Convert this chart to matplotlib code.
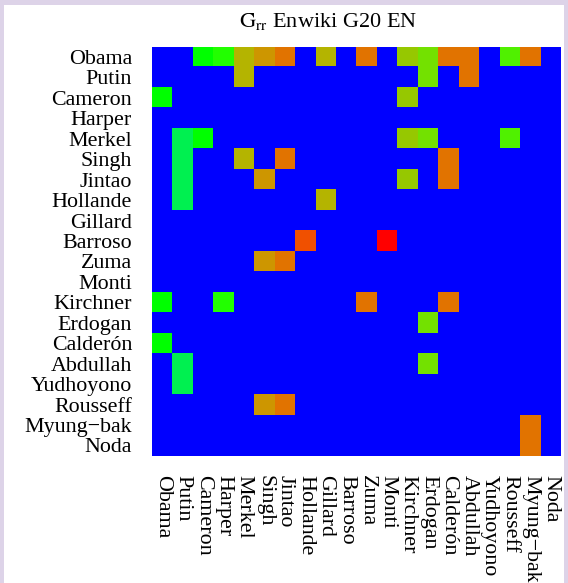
import numpy as np
import matplotlib
matplotlib.use('Agg')
import matplotlib.pyplot as plt
from matplotlib.colors import ListedColormap
import matplotlib.patches as mpatches

leaders = ['Obama', 'Putin', 'Cameron', 'Harper', 'Merkel', 'Singh', 'Jintao',
           'Hollande', 'Gillard', 'Barroso', 'Zuma', 'Monti', 'Kirchner',
           'Erdogan', 'Calderón', 'Abdullah', 'Yudhoyono', 'Rousseff',
           'Myung\u2212bak', 'Noda']

# colour level of each cell (0 = blue background, 11 = red)
grr = [
    [0, 0, 2, 3, 7, 8, 9, 0, 7, 0, 9, 0, 6, 5, 9, 9, 0, 4, 9, 0],   # Obama
    [0, 0, 0, 0, 7, 0, 0, 0, 0, 0, 0, 0, 0, 5, 0, 9, 0, 0, 0, 0],   # Putin
    [2, 0, 0, 0, 0, 0, 0, 0, 0, 0, 0, 0, 6, 0, 0, 0, 0, 0, 0, 0],   # Cameron
    [0, 0, 0, 0, 0, 0, 0, 0, 0, 0, 0, 0, 0, 0, 0, 0, 0, 0, 0, 0],   # Harper
    [0, 1, 2, 0, 0, 0, 0, 0, 0, 0, 0, 0, 6, 5, 0, 0, 0, 4, 0, 0],   # Merkel
    [0, 1, 0, 0, 7, 0, 9, 0, 0, 0, 0, 0, 0, 0, 9, 0, 0, 0, 0, 0],   # Singh
    [0, 1, 0, 0, 0, 8, 0, 0, 0, 0, 0, 0, 6, 0, 9, 0, 0, 0, 0, 0],   # Jintao
    [0, 1, 0, 0, 0, 0, 0, 0, 7, 0, 0, 0, 0, 0, 0, 0, 0, 0, 0, 0],   # Hollande
    [0, 0, 0, 0, 0, 0, 0, 0, 0, 0, 0, 0, 0, 0, 0, 0, 0, 0, 0, 0],   # Gillard
    [0, 0, 0, 0, 0, 0, 0, 10, 0, 0, 0, 11, 0, 0, 0, 0, 0, 0, 0, 0], # Barroso
    [0, 0, 0, 0, 0, 8, 9, 0, 0, 0, 0, 0, 0, 0, 0, 0, 0, 0, 0, 0],   # Zuma
    [0, 0, 0, 0, 0, 0, 0, 0, 0, 0, 0, 0, 0, 0, 0, 0, 0, 0, 0, 0],   # Monti
    [2, 0, 0, 3, 0, 0, 0, 0, 0, 0, 9, 0, 0, 0, 9, 0, 0, 0, 0, 0],   # Kirchner
    [0, 0, 0, 0, 0, 0, 0, 0, 0, 0, 0, 0, 0, 5, 0, 0, 0, 0, 0, 0],   # Erdogan
    [2, 0, 0, 0, 0, 0, 0, 0, 0, 0, 0, 0, 0, 0, 0, 0, 0, 0, 0, 0],   # Calderon
    [0, 1, 0, 0, 0, 0, 0, 0, 0, 0, 0, 0, 0, 5, 0, 0, 0, 0, 0, 0],   # Abdullah
    [0, 1, 0, 0, 0, 0, 0, 0, 0, 0, 0, 0, 0, 0, 0, 0, 0, 0, 0, 0],   # Yudhoyono
    [0, 0, 0, 0, 0, 8, 9, 0, 0, 0, 0, 0, 0, 0, 0, 0, 0, 0, 0, 0],   # Rousseff
    [0, 0, 0, 0, 0, 0, 0, 0, 0, 0, 0, 0, 0, 0, 0, 0, 0, 0, 9, 0],   # Myung-bak
    [0, 0, 0, 0, 0, 0, 0, 0, 0, 0, 0, 0, 0, 0, 0, 0, 0, 0, 9, 0],   # Noda
]

level_colors = ['#0000ff', '#00f050', '#00ff00', '#22ff00', '#50f000',
                '#73e100', '#96c800', '#b4b400', '#cd9600', '#e17300',
                '#f05000', '#ff0000']

plt.rcParams['font.family'] = ['Liberation Serif', 'DejaVu Serif']
plt.rcParams['mathtext.fontset'] = 'stix'

W, H = 568, 583
fig = plt.figure(figsize=(W / 100, H / 100), dpi=100)
fig.patch.set_facecolor('#ddd3e8')
fig.patches.append(mpatches.Rectangle((4 / W, 0), (W - 8) / W, (H - 5) / H,
                                      transform=fig.transFigure,
                                      facecolor='white', edgecolor='none',
                                      zorder=-10))

ax = fig.add_axes([152.3 / W, (H - 455.7) / H, 409 / W, 409 / H])
ax.set_zorder(5)
cmap = ListedColormap(level_colors)
ax.imshow(np.array(grr), cmap=cmap, vmin=-0.5, vmax=len(level_colors) - 0.5,
          aspect='auto', interpolation='nearest')

n = len(leaders)
ax.set_xticks(np.arange(n))
ax.set_yticks(np.arange(n))
ax.set_xticklabels(leaders, rotation=-90, fontsize=15.8, va='top', ha='center')
ax.set_yticklabels(leaders, fontsize=15.8)
ax.tick_params(length=0)
ax.tick_params(axis='x', pad=13.7)
ax.tick_params(axis='y', pad=14.6)
for s in ax.spines.values():
    s.set_visible(False)

fig.text(328.5 / W, 1 - 27 / H, r'$\mathrm{G_{rr}}$ Enwiki G20 EN',
         fontsize=16, ha='center', va='baseline')

fig.savefig('out.png', dpi=100, facecolor=fig.get_facecolor())
